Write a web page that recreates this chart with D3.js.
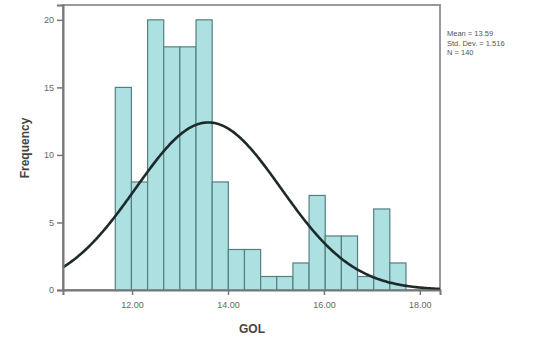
<!DOCTYPE html>
<meta charset="utf-8">
<script src="https://d3js.org/d3.v7.min.js"></script>
<style>
body { margin: 0; background: #fff; }
text { font-family: Arial, "Liberation Sans", sans-serif; }
</style>
<body>
<script>
// histogram bins (lower edges) and counts
var binStart = 11.65, binWidth = 0.3367;
var counts = [15, 8, 20, 18, 18, 20, 8, 3, 3, 1, 1, 2, 7, 4, 4, 1, 6, 2];
var xTicks = [12, 14, 16, 18];
var yTicks = [0, 5, 10, 15, 20];
var stats = ["Mean = 13.59", "Std. Dev. = 1.516", "N = 140"];
var mean = 13.59, sd = 1.516, n = 140;

var W = 545, H = 342;
var mLeft = 63, mRight = 440, mTop = 5, mBottom = 290;

var svg = d3.select("body").append("svg")
    .attr("width", W).attr("height", H);

var x = d3.scaleLinear().domain([10.56, 18.42]).range([mLeft, mRight]);
var y = d3.scaleLinear().domain([0, 21.1]).range([mBottom, mTop]);

// frame
svg.append("rect")
    .attr("x", mLeft).attr("y", mTop)
    .attr("width", mRight - mLeft).attr("height", mBottom - mTop)
    .attr("fill", "#fff").attr("stroke", "#999").attr("stroke-width", 2);

// bars
svg.selectAll(".bar")
    .data(counts)
    .enter().append("rect")
    .attr("class", "bar")
    .attr("x", function(d, i) { return x(binStart + i * binWidth); })
    .attr("width", x(binStart + binWidth) - x(binStart))
    .attr("y", function(d) { return y(d); })
    .attr("height", function(d) { return y(0) - y(d); })
    .attr("fill", "#ade1e1")
    .attr("stroke", "#557f80")
    .attr("stroke-width", 1.2);

// normal curve
var peak = n * binWidth / (sd * Math.sqrt(2 * Math.PI));
var pts = d3.range(10.56, 18.421, 0.02);
svg.append("path")
    .datum(pts)
    .attr("d", d3.line()
        .x(function(d) { return x(d); })
        .y(function(d) { var z = (d - mean) / sd; return y(peak * Math.exp(-z * z / 2)); }))
    .attr("fill", "none")
    .attr("stroke", "#1e2a2a")
    .attr("stroke-width", 2.6);

// axes
var xAxis = svg.append("g")
    .attr("transform", "translate(0," + mBottom + ")")
    .call(d3.axisBottom(x).tickValues(xTicks).tickSize(5).tickFormat(d3.format(".2f")));
var yAxis = svg.append("g")
    .attr("transform", "translate(" + mLeft + ",0)")
    .call(d3.axisLeft(y).tickValues(yTicks).tickSize(6));
[xAxis, yAxis].forEach(function(g) {
    g.select(".domain").attr("stroke", "#777").attr("stroke-width", 2);
    g.selectAll(".tick line").attr("stroke", "#777").attr("stroke-width", 1.5);
    g.selectAll(".tick text").attr("fill", "#666").attr("font-size", 9);
});
xAxis.selectAll(".tick text").attr("dy", "1.1em");

// axis titles
svg.append("text")
    .attr("x", 252).attr("y", 333)
    .attr("text-anchor", "middle")
    .attr("font-size", 12).attr("font-weight", "bold").attr("fill", "#444")
    .text("GOL");
svg.append("text")
    .attr("transform", "translate(29,148) rotate(-90)")
    .attr("text-anchor", "middle")
    .attr("font-size", 12).attr("font-weight", "bold").attr("fill", "#444")
    .text("Frequency");

// stats box
svg.selectAll(".stat")
    .data(stats)
    .enter().append("text")
    .attr("class", "stat")
    .attr("x", 447)
    .attr("y", function(d, i) { return 36 + i * 9.5; })
    .attr("font-size", 7.5).attr("fill", "#555")
    .text(function(d) { return d; });
</script>
</body>
